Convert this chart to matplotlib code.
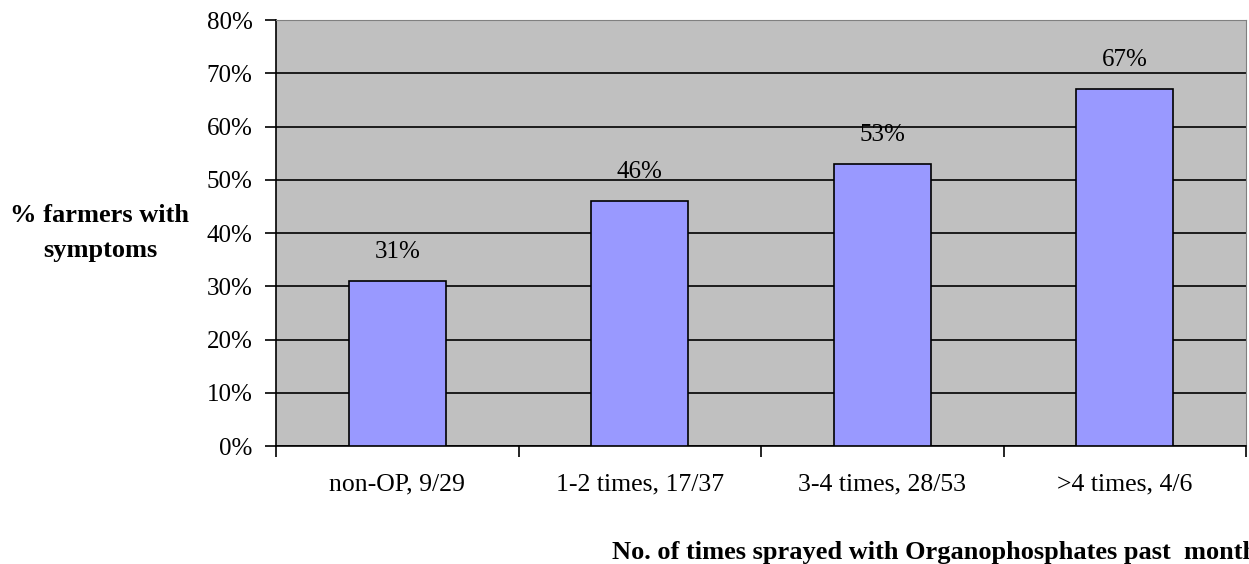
import numpy as np
import matplotlib.pyplot as plt

categories = ['non-OP, 9/29', '1-2 times, 17/37', '3-4 times, 28/53', '>4 times, 4/6']
percent = [31, 46, 53, 67]
y_ticks = [0, 10, 20, 30, 40, 50, 60, 70, 80]

plt.rcParams['font.family'] = ['Liberation Serif', 'DejaVu Serif']

fig = plt.figure(figsize=(12.49, 5.64), dpi=100)
ax = fig.add_axes([0.221, 0.209, 0.7766, 0.7555])
ax.set_facecolor('#C0C0C0')

x = np.arange(len(categories))
ax.set_axisbelow(True)
ax.yaxis.grid(True, color='black', linewidth=1.2)
ax.bar(x, percent, width=0.4, color='#9999FF', edgecolor='black', linewidth=1.2, zorder=3)

for xi, v in zip(x, percent):
    ax.text(xi, v + 5.5, f'{v}%', ha='center', va='center', fontsize=18, zorder=4)

ax.set_xlim(-0.5, len(categories) - 0.5)
ax.set_ylim(0, 80)
ax.set_yticks(y_ticks)
ax.set_yticklabels([f'{t}%' for t in y_ticks], fontsize=18)
ax.set_xticks(np.arange(len(categories) + 1) - 0.5)
ax.set_xticklabels([])
ax.set_xticks(x, minor=True)
ax.set_xticklabels(categories, minor=True, fontsize=18.5)
ax.tick_params(axis='x', which='major', length=8, width=1.2, direction='out')
ax.tick_params(axis='x', which='minor', length=0, pad=20)
ax.tick_params(axis='y', length=8, width=1.2, direction='out', pad=9)

ax.spines['left'].set_linewidth(1.2)
ax.spines['bottom'].set_linewidth(1.2)
ax.spines['top'].set_color('#808080')
ax.spines['right'].set_color('#808080')

fig.text(0.08, 0.587, '% farmers with\nsymptoms', ha='center', va='center',
         fontsize=19, fontweight='bold', linespacing=1.7)
fig.text(0.49, 0.02, 'No. of times sprayed with Organophosphates past  month',
         ha='left', va='center', fontsize=19, fontweight='bold')

fig.savefig('out.png', dpi=100)
